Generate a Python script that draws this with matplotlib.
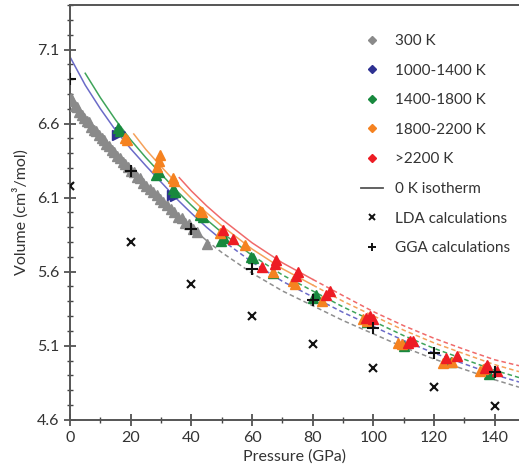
import matplotlib
matplotlib.use("Agg")
import matplotlib.pyplot as plt
from matplotlib.lines import Line2D
from matplotlib.ticker import MultipleLocator

plt.rcParams['font.family'] = ['Lato', 'DejaVu Sans']

# 300 K data
p300 = [0.2, 0.8, 1.5, 2.3, 3.0, 3.8, 4.6, 5.5, 6.3, 7.0, 7.8, 8.6, 9.5, 10.4, 11.2,
        12.0, 12.9, 13.8, 14.6, 15.5, 16.4, 17.3, 18.2, 19.0, 20.0, 21.0, 22.0, 23.0,
        24.0, 25.0, 26.2, 27.4, 28.5, 29.6, 30.8, 32.0, 33.2, 34.4, 35.6, 36.8, 38.0,
        39.2, 40.5, 42.0, 45.0]
v300 = [6.77, 6.75, 6.72, 6.71, 6.68, 6.66, 6.64, 6.62, 6.61, 6.58, 6.56, 6.55, 6.52,
        6.50, 6.49, 6.46, 6.45, 6.42, 6.41, 6.38, 6.37, 6.34, 6.33, 6.31, 6.28, 6.27,
        6.24, 6.23, 6.20, 6.18, 6.16, 6.14, 6.12, 6.09, 6.07, 6.05, 6.02, 6.00, 5.97,
        5.96, 5.93, 5.92, 5.89, 5.87, 5.79]

# high temperature data
p_blue = [15.5, 16.3, 33.5, 34.5]
v_blue = [6.52, 6.54, 6.12, 6.11]

p_green = [15.8, 16.6, 28.4, 29.2, 33.8, 34.6, 42.8, 43.8, 49.8, 50.6, 59.5, 60.3,
           66.8, 80.2, 81.0, 98.0, 110.0, 125.5, 138.0]
v_green = [6.57, 6.55, 6.25, 6.27, 6.16, 6.14, 5.98, 5.97, 5.81, 5.83, 5.70, 5.69,
           5.59, 5.42, 5.44, 5.26, 5.10, 4.99, 4.91]

p_orange = [18.0, 18.8, 28.8, 29.3, 29.6, 33.8, 34.3, 42.8, 43.5, 49.5, 57.6, 67.0,
            73.5, 74.2, 83.0, 96.6, 97.8, 108.0, 109.5, 123.0, 126.0, 135.0, 136.0]
v_orange = [6.50, 6.49, 6.31, 6.35, 6.39, 6.23, 6.21, 6.01, 6.00, 5.86, 5.78, 5.60,
            5.54, 5.52, 5.40, 5.28, 5.27, 5.12, 5.11, 4.98, 4.99, 4.93, 4.94]

p_red = [50.5, 53.7, 63.3, 67.5, 68.0, 74.6, 75.2, 84.5, 85.6, 97.5, 98.8, 99.8,
         111.3, 112.2, 113.0, 124.0, 127.5, 136.7, 137.5, 140.6]
v_red = [5.88, 5.82, 5.63, 5.65, 5.68, 5.57, 5.60, 5.44, 5.47, 5.29, 5.30, 5.28,
         5.12, 5.13, 5.13, 5.02, 5.03, 4.95, 4.97, 4.93]

# calculations
p_calc = [0, 20, 40, 60, 80, 100, 120, 140]
v_lda = [6.18, 5.80, 5.52, 5.30, 5.11, 4.95, 4.82, 4.69]
v_gga = [6.90, 6.28, 5.89, 5.62, 5.41, 5.22, 5.05, 4.92]

# fitted isotherms (pressure grid, volume), solid up to the last measured pressure
p_grid = [0, 5, 10, 15, 20, 25, 30, 35, 40, 45, 50, 60, 70, 80, 90, 100, 110, 120, 130, 140, 148]
fit_gray = [6.78, 6.64, 6.52, 6.40, 6.29, 6.19, 6.09, 5.99, 5.90, 5.81, 5.73, 5.59, 5.47,
            5.37, 5.27, 5.18, 5.09, 5.01, 4.94, 4.87, 4.82]
fit_blue = [7.05, 6.86, 6.70, 6.555, 6.43, 6.315, 6.205, 6.095, 5.995, 5.90, 5.815, 5.665,
            5.535, 5.43, 5.325, 5.23, 5.135, 5.05, 4.977, 4.904, 4.855]
p_green_fit = p_grid[1:]
fit_green = [6.94, 6.775, 6.625, 6.49, 6.37, 6.26, 6.15, 6.048, 5.952, 5.865, 5.71, 5.578,
             5.47, 5.362, 5.265, 5.168, 5.082, 5.008, 4.934, 4.885]
p_orange_fit = [21] + p_grid[5:]
fit_orange = [6.53, 6.425, 6.31, 6.20, 6.095, 5.998, 5.91, 5.753, 5.62, 5.51, 5.40, 5.302,
              5.205, 5.119, 5.045, 4.972, 4.925]
p_red_fit = [36] + p_grid[8:]
fit_red = [6.235, 6.145, 6.045, 5.955, 5.795, 5.66, 5.548, 5.438, 5.33, 5.235, 5.15,
           5.075, 5.005, 4.965]

c_gray, c_blue, c_green, c_orange, c_red = '#8a8a8a', '#2e3192', '#18893e', '#f58220', '#ed1c24'
l_gray, l_blue, l_green, l_orange, l_red = '#8f8f8f', '#6b6bc8', '#3fa45a', '#f5a15a', '#f06a6a'

fig = plt.figure(figsize=(5.19, 4.69), dpi=100)
ax = fig.add_axes([0.135, 0.105, 0.865, 0.884])


def isotherm(p, v, end, color):
    solid = [i for i, x in enumerate(p) if x <= end]
    dashed = [i for i, x in enumerate(p) if x >= end]
    ax.plot([p[i] for i in solid], [v[i] for i in solid], color=color, lw=1.1, zorder=2)
    ax.plot([p[i] for i in dashed], [v[i] for i in dashed], color=color, lw=1.1,
            ls=(0, (3, 2)), zorder=2)


isotherm(p_grid, fit_gray, 45, l_gray)
isotherm(p_grid, fit_blue, 50, l_blue)
isotherm(p_green_fit, fit_green, 60, l_green)
isotherm(p_orange_fit, fit_orange, 80, l_orange)
isotherm(p_red_fit, fit_red, 80, l_red)

ax.plot(p300, v300, ls='none', marker='^', ms=6.5, color=c_gray, mec=c_gray, zorder=3)
ax.plot(p_blue, v_blue, ls='none', marker='>', ms=7, color=c_blue, zorder=3)
ax.plot(p_green, v_green, ls='none', marker='^', ms=7.5, color=c_green, zorder=4)
ax.plot(p_orange, v_orange, ls='none', marker='^', ms=7.5, color=c_orange, zorder=5)
ax.plot(p_red, v_red, ls='none', marker='^', ms=7.5, color=c_red, zorder=6)
ax.plot(p_calc, v_lda, ls='none', marker='x', ms=5.5, mew=1.5, color='#111111', zorder=7)
ax.plot(p_calc, v_gga, ls='none', marker='+', ms=9, mew=1.5, color='#111111', zorder=7)

ax.set_xlim(0, 148)
ax.set_ylim(4.6, 7.4)
ax.set_yticks([4.6, 5.1, 5.6, 6.1, 6.6, 7.1])
ax.set_xticks([0, 20, 40, 60, 80, 100, 120, 140])
ax.xaxis.set_minor_locator(MultipleLocator(10))
ax.yaxis.set_minor_locator(MultipleLocator(0.1))
ax.tick_params(which='major', direction='inout', length=8, width=1.2, colors='#444444',
               labelsize=11.5, labelcolor='#333333')
ax.tick_params(which='minor', direction='inout', length=4, width=1.0, colors='#444444')
ax.tick_params(axis='x', pad=4)
for side in ['left', 'bottom', 'top']:
    ax.spines[side].set_color('#555555')
    ax.spines[side].set_linewidth(1.4)
ax.spines['right'].set_visible(False)

ax.set_xlabel('Pressure (GPa)', fontsize=11.5, color='#333333', labelpad=3)
ax.set_ylabel('Volume (cm³/mol)', fontsize=11.5, color='#333333', labelpad=6)

handles = [
    Line2D([], [], ls='none', marker='D', ms=4.5, color=c_gray),
    Line2D([], [], ls='none', marker='D', ms=4.5, color=c_blue),
    Line2D([], [], ls='none', marker='D', ms=4.5, color=c_green),
    Line2D([], [], ls='none', marker='D', ms=4.5, color=c_orange),
    Line2D([], [], ls='none', marker='D', ms=4.5, color=c_red),
    Line2D([], [], color='#555555', lw=1.3),
    Line2D([], [], ls='none', marker='x', ms=4.5, mew=1.4, color='#111111'),
    Line2D([], [], ls='none', marker='+', ms=6, mew=1.4, color='#111111'),
]
labels = ['300 K', '1000-1400 K', '1400-1800 K', '1800-2200 K', '>2200 K',
          '0 K isotherm', 'LDA calculations', 'GGA calculations']
leg = ax.legend(handles, labels, loc='upper left', bbox_to_anchor=(0.635, 0.945),
                frameon=False, fontsize=11, labelspacing=1.02, handlelength=1.4,
                handletextpad=0.8, borderaxespad=0)
for t in leg.get_texts():
    t.set_color('#333333')

fig.savefig('out.png', dpi=100)
